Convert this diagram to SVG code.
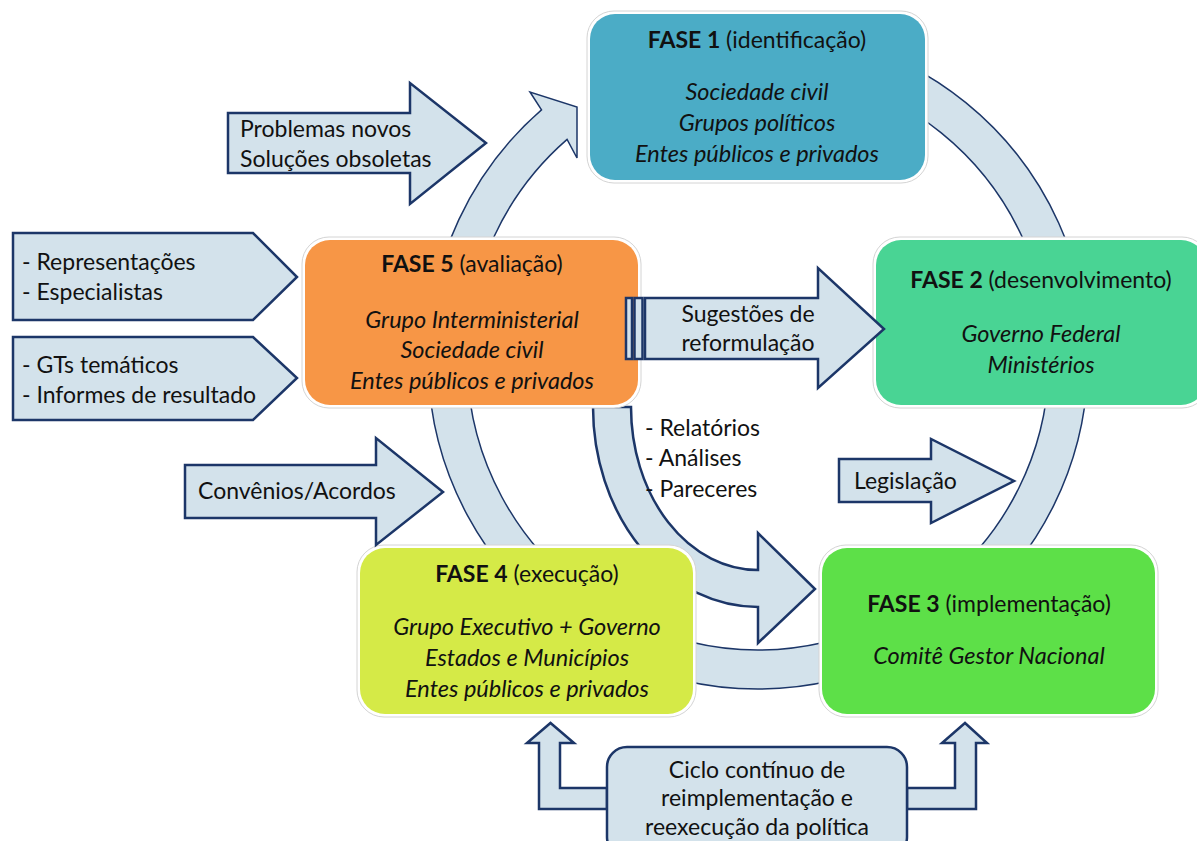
<svg xmlns="http://www.w3.org/2000/svg" width="1197" height="841" viewBox="0 0 1197 841">
<style>
text{font-family:Lato,"Open Sans","Liberation Sans",sans-serif;font-size:23px;fill:#111}
.c{text-anchor:middle}
.i{font-style:italic;font-size:23.5px}
.b{font-weight:bold}
.arr{fill:#d3e2eb;stroke:#1c3668;stroke-width:2.5;stroke-linejoin:miter}
.ring{fill:#d3e2eb;stroke:#1c3668;stroke-width:1.5}
.halo{fill:#fff;stroke:#d4d4d4;stroke-width:1}
</style>
<rect width="1197" height="841" fill="#fff"/>
<g id="connectors">
<path id="cycle" class="ring" d="M 843.4 40.2 A 330 330 0 1 1 541.5 109.9 L 530 92 L 577 107 L 577 158 L 567.1 139.4 A 291 291 0 1 0 833.3 77.9 Z"/>
<path id="relatorios-arrow" class="arr" d="M 593 407 L 631 407 A 127 163 0 0 0 758 570 L 758 533 L 815 589 L 758 643 L 758 607 A 165 200 0 0 1 593 407 Z"/>
</g>
<g id="fase1">
<rect class="halo" x="587" y="11" width="341" height="172" rx="27"/>
<rect x="590" y="14" width="335" height="166" rx="25" fill="#4bacc6"/>
<text class="c" x="757" y="48"><tspan class="b">FASE 1</tspan> (identificação)</text>
<text class="c i" x="757" y="100">Sociedade civil</text>
<text class="c i" x="757" y="131">Grupos políticos</text>
<text class="c i" x="757" y="162">Entes públicos e privados</text>
</g>
<g id="fase2">
<rect class="halo" x="873" y="237" width="336" height="171" rx="27"/>
<rect x="876" y="240" width="330" height="165" rx="25" fill="#49d494"/>
<text class="c" x="1041" y="288"><tspan class="b">FASE 2</tspan> (desenvolvimento)</text>
<text class="c i" x="1041" y="342">Governo Federal</text>
<text class="c i" x="1041" y="373">Ministérios</text>
</g>
<g id="fase3">
<rect class="halo" x="819" y="545" width="339" height="172" rx="27"/>
<rect x="822" y="548" width="333" height="166" rx="25" fill="#5de048"/>
<text class="c" x="989" y="612"><tspan class="b">FASE 3</tspan> (implementação)</text>
<text class="c i" x="989" y="664">Comitê Gestor Nacional</text>
</g>
<g id="fase4">
<rect class="halo" x="357" y="545" width="339" height="172" rx="27"/>
<rect x="360" y="548" width="333" height="166" rx="25" fill="#d5ea47"/>
<text class="c" x="527" y="582"><tspan class="b">FASE 4</tspan> (execução)</text>
<text class="c i" x="527" y="635">Grupo Executivo + Governo</text>
<text class="c i" x="527" y="666">Estados e Municípios</text>
<text class="c i" x="527" y="697">Entes públicos e privados</text>
</g>
<g id="fase5">
<rect class="halo" x="302" y="237" width="339" height="171" rx="27"/>
<rect x="305" y="240" width="333" height="165" rx="25" fill="#f79646"/>
<text class="c" x="472" y="272"><tspan class="b">FASE 5</tspan> (avaliação)</text>
<text class="c i" x="472" y="328">Grupo Interministerial</text>
<text class="c i" x="472" y="358">Sociedade civil</text>
<text class="c i" x="472" y="389">Entes públicos e privados</text>
</g>
<g id="problemas">
<path class="arr" d="M 228 113 L 410 113 L 410 83 L 486 143 L 410 204 L 410 173 L 228 173 Z"/>
<text x="240" y="137">Problemas novos</text>
<text x="240" y="167">Soluções obsoletas</text>
</g>
<g id="representacoes">
<path class="arr" d="M 13 233 L 253 233 L 297 277 L 253 320 L 13 320 Z"/>
<text x="22" y="270">- Representações</text>
<text x="22" y="300">- Especialistas</text>
</g>
<g id="gts">
<path class="arr" d="M 13 337 L 253 337 L 297 378 L 253 420 L 13 420 Z"/>
<text x="22" y="373">- GTs temáticos</text>
<text x="22" y="403">- Informes de resultado</text>
</g>
<g id="convenios">
<path class="arr" d="M 185 465 L 376 465 L 376 438 L 443 492 L 376 545 L 376 518 L 185 518 Z"/>
<text x="198" y="499">Convênios/Acordos</text>
</g>
<g id="sugestoes">
<rect class="arr" x="626" y="298" width="6" height="61" stroke-width="2"/>
<rect class="arr" x="634.5" y="298" width="8" height="61" stroke-width="2"/>
<path class="arr" d="M 645 298 L 818 298 L 818 268 L 884 329 L 818 388 L 818 359 L 645 359 Z"/>
<text class="c" x="748" y="322">Sugestões de</text>
<text class="c" x="748" y="351">reformulação</text>
</g>
<g id="legislacao">
<path class="arr" d="M 839 459 L 931 459 L 931 439 L 1014 481 L 931 523 L 931 502 L 839 502 Z"/>
<text x="854" y="489">Legislação</text>
</g>
<g id="relatorios-label">
<text x="645" y="436">- Relatórios</text>
<text x="645" y="466">- Análises</text>
<text x="645" y="497">- Pareceres</text>
</g>
<g id="ciclo">
<path class="arr" d="M 607 788 L 560 788 L 560 743 L 574 743 L 550.5 723 L 527 743 L 539 743 L 539 809 L 607 809 Z"/>
<path class="arr" d="M 907 788 L 955 788 L 955 743 L 942 743 L 965 723 L 987 743 L 976 743 L 976 809 L 907 809 Z"/>
<rect class="arr" x="607" y="747" width="300" height="110" rx="20"/>
<text class="c" x="757" y="778">Ciclo contínuo de</text>
<text class="c" x="757" y="806">reimplementação e</text>
<text class="c" x="757" y="835">reexecução da política</text>
</g>
</svg>
